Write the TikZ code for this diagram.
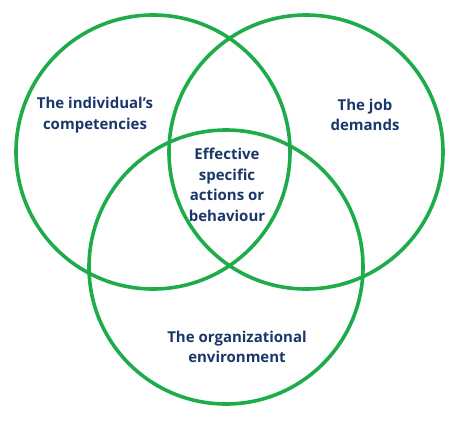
\documentclass[tikz,border=0pt]{standalone}
\usepackage{fontspec}
\setmainfont{Open Sans}
\definecolor{vgreen}{RGB}{30,172,75}
\definecolor{vnavy}{RGB}{25,55,105}
\begin{document}
\begin{tikzpicture}[x=1pt,y=-1pt,
  ring/.style={draw=vgreen,line width=3.6pt,circle,minimum size=274pt,inner sep=0pt},
  lbl/.style={text=vnavy,font=\fontsize{15}{20.5}\selectfont\bfseries,align=center,inner sep=0pt}]
\useasboundingbox (0,0) rectangle (459,421);
\node[ring] (left) at (153,152) {};
\node[ring] (right) at (306,152) {};
\node[ring] (bottom) at (226,267) {};
\node[lbl] (tl) at (95,115) {The individual’s\\competencies};
\node[lbl] (tr) at (365,115) {The job\\demands};
\node[lbl] (tc) at (227,185) {Effective\\specific\\actions or\\behaviour};
\node[lbl] (tb) at (237,347) {The organizational\\environment};
\end{tikzpicture}
\end{document}
